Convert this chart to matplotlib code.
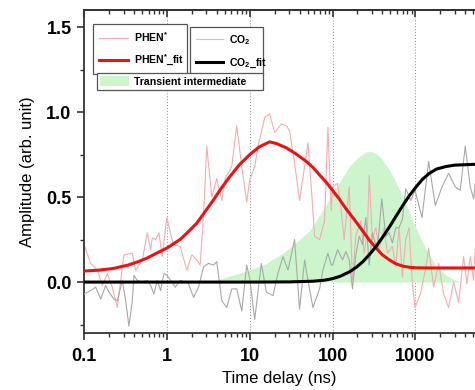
import matplotlib
matplotlib.use("Agg")
import matplotlib.pyplot as plt
from matplotlib.lines import Line2D
from matplotlib.patches import Patch
from matplotlib.ticker import FixedLocator, LogLocator, NullFormatter, FixedFormatter

plt.rcParams["font.family"] = ["Liberation Sans", "DejaVu Sans"]
plt.rcParams["mathtext.fontset"] = "custom"
plt.rcParams["mathtext.rm"] = "Liberation Sans:bold"
plt.rcParams["mathtext.bf"] = "Liberation Sans:bold"

# raw PHEN* trace (time in ns, amplitude)
phen_t = [0.100, 0.120, 0.145, 0.166, 0.191, 0.219, 0.252, 0.277, 0.303, 0.382,
          0.419, 0.505, 0.580, 0.636, 0.666, 0.730, 0.801, 0.879, 0.964,
          1.00, 1.10, 1.20, 1.45, 1.74, 2.00, 2.30, 2.52, 2.77, 3.03, 3.48,
          4.00, 4.60, 5.05, 6.07, 6.97, 8.01, 9.20,
          10.0, 11.5, 12.6, 15.2, 17.4, 20.0, 24.1, 27.7, 30.3, 34.8, 40.0,
          46.0, 50.5, 55.3, 60.7, 69.7, 80.1, 87.9, 96.4,
          100, 115, 126, 138, 159, 174, 191, 219, 241, 264, 277, 303, 333,
          365, 419, 460, 528, 580, 636, 697, 765, 839, 920, 991,
          1149, 1320, 1447, 1663, 1910, 2194, 2520, 2900, 3330, 3820, 4190,
          4600, 5050, 5280]
phen_y = [0.22, 0.11, 0.07, -0.02, 0.05, -0.03, -0.15, 0.01, 0.16, 0.17,
          0.07, 0.13, 0.29, 0.19, 0.26, 0.25, 0.29, 0.15, 0.32,
          0.38, 0.29, 0.22, 0.21, 0.07, 0.16, 0.13, 0.10, 0.40, 0.80, 0.50,
          0.61, 0.48, 0.61, 0.68, 0.92, 0.68, 0.47,
          0.60, 0.68, 0.80, 0.97, 0.99, 0.88, 0.93, 0.92, 0.89, 0.70, 0.48,
          0.68, 0.82, 0.56, 0.27, 0.25, 0.36, 0.91, 0.42,
          0.56, 0.58, 0.44, 0.25, 0.56, 0.01, 0.27, 0.36, 0.17, 0.31, 0.63, 0.25, 0.32,
          0.19, 0.32, 0.17, 0.21, 0.09, 0.32, 0.03, 0.25, 0.32, -0.01, -0.15,
          -0.07, 0.07, 0.20, -0.03, 0.11, -0.07, -0.15, 0.00, -0.12, 0.15, -0.01,
          0.15, 0.01, 0.19]

# raw CO2 trace
co2_t = [0.100, 0.120, 0.138, 0.159, 0.182, 0.200, 0.230, 0.252, 0.290, 0.318,
         0.348, 0.382, 0.400, 0.439, 0.505, 0.580, 0.636, 0.697, 0.765, 0.839, 0.920,
         1.00, 1.15, 1.26, 1.45, 1.66, 1.82, 2.10, 2.41, 2.77, 3.18, 3.65,
         4.00, 4.39, 4.60, 5.28, 6.07, 6.97, 8.01, 9.20,
         10.0, 11.5, 13.8, 15.9, 19.1, 21.9, 25.2, 29.0, 34.8, 40.0, 46.0,
         50.5, 58.0, 69.7, 76.5, 87.9, 96.4,
         100, 115, 132, 145, 159, 174, 191, 210, 230, 252, 277, 303, 348,
         393, 439, 482, 528, 580, 636, 697, 765, 879, 991,
         1203, 1447, 1742, 2095, 2520, 3030, 3480, 4000, 4600, 5050, 5280]
co2_y = [-0.07, -0.05, -0.03, -0.10, -0.02, -0.06, -0.10, -0.11, 0.01, -0.11,
         -0.26, -0.11, 0.04, 0.01, 0.00, 0.01, -0.02, -0.07, 0.01, -0.05, 0.05,
         0.04, 0.00, -0.03, 0.01, 0.00, -0.01, -0.09, -0.03, 0.09, 0.11, 0.10,
         0.12, -0.03, -0.11, -0.15, -0.04, -0.04, -0.17, 0.10,
         0.02, -0.22, 0.11, -0.06, -0.08, 0.05, 0.15, 0.07, 0.25, -0.16, 0.13,
         0.01, -0.15, -0.04, 0.07, 0.17, 0.10,
         0.10, 0.19, 0.13, 0.18, 0.13, -0.04, 0.16, 0.27, 0.22, 0.38, 0.10, 0.29, 0.19,
         0.49, 0.27, 0.29, 0.23, 0.32, 0.32, 0.37, 0.55, 0.48, 0.54,
         0.38, 0.71, 0.45, 0.56, 0.64, 0.56, 0.54, 0.80, 0.56, 0.49, 0.58]

# fitted curves
phen_fit_t = [0.1, 0.15, 0.225, 0.34, 0.45, 0.569, 0.75, 1.0, 1.2, 1.44, 1.8,
              2.28, 2.85, 3.61, 4.5, 5.74, 7.5, 10.0, 13.0, 17.4, 21.0, 27.7,
              36.0, 48.2, 58.0, 69.7, 83.0, 100, 120, 146, 185, 232, 280, 336,
              400, 487, 580, 703, 850, 1020, 1500, 5300]
phen_fit_y = [0.065, 0.07, 0.08, 0.10, 0.12, 0.14, 0.17, 0.20, 0.225, 0.25, 0.295,
              0.345, 0.41, 0.48, 0.55, 0.62, 0.69, 0.75, 0.795, 0.825, 0.815, 0.79,
              0.755, 0.71, 0.675, 0.63, 0.59, 0.54, 0.49, 0.43, 0.365, 0.30, 0.245, 0.20,
              0.16, 0.13, 0.108, 0.094, 0.087, 0.084, 0.083, 0.083]

co2_fit_t = [0.1, 1.0, 10.0, 30.0, 58.0, 80.0, 100, 125, 160, 195, 232, 280,
             336, 400, 487, 580, 703, 850, 1020, 1220, 1476, 1800, 2344, 3000,
             3720, 5300]
co2_fit_y = [0.0, 0.0, 0.0, 0.001, 0.005, 0.011, 0.02, 0.035, 0.06, 0.088, 0.12, 0.163,
             0.21, 0.262, 0.325, 0.385, 0.45, 0.51, 0.56, 0.605, 0.64, 0.665, 0.68, 0.688,
             0.69, 0.693]

# transient intermediate (shaded)
inter_t = [1.0, 2.0, 3.9, 6.2, 10.0, 15.9, 25.2, 40.0, 52.0, 63.6, 80.0, 100,
           126, 159, 200, 252, 290, 340, 400, 500, 636, 800, 950, 1200, 1476,
           1742, 2344, 2900, 3500]
inter_y = [0.0, 0.003, 0.01, 0.04, 0.07, 0.11, 0.17, 0.25, 0.30, 0.36, 0.44, 0.52,
           0.60, 0.68, 0.73, 0.765, 0.77, 0.755, 0.72, 0.65, 0.55, 0.44, 0.35, 0.24, 0.16,
           0.10, 0.04, 0.015, 0.0]

fig = plt.figure(figsize=(4.75, 3.9), dpi=100)
ax = fig.add_axes([0.177, 0.146, 0.823, 0.828])

ax.fill_between(inter_t, 0, inter_y, color="#ccf5cc", lw=0, zorder=1)
ax.plot(phen_t, phen_y, color="#f2acb3", lw=0.8, zorder=2)
ax.plot(co2_t, co2_y, color="#a8a8a8", lw=0.8, zorder=3)
ax.plot(phen_fit_t, phen_fit_y, color="#ee1111", lw=2.2, zorder=4)
ax.plot(co2_fit_t, co2_fit_y, color="black", lw=2.2, zorder=5)

for v in [1, 10, 100, 1000]:
    ax.axvline(v, color="#888888", lw=0.7, ls=(0, (1, 2)), zorder=0)

ax.set_xscale("log")
ax.set_xlim(0.1, 10 ** 3.72)
ax.set_ylim(-0.30, 1.60)

ax.xaxis.set_major_locator(FixedLocator([0.1, 1, 10, 100, 1000]))
ax.xaxis.set_major_formatter(FixedFormatter(["0.1", "1", "10", "100", "1000"]))
ax.xaxis.set_minor_locator(LogLocator(base=10, subs=range(2, 10)))
ax.xaxis.set_minor_formatter(NullFormatter())
ax.set_yticks([0.0, 0.5, 1.0, 1.5])
ax.set_yticklabels(["0.0", "0.5", "1.0", "1.5"])
ax.set_yticks([-0.25, 0.25, 0.75, 1.25], minor=True)

for lab in ax.get_xticklabels() + ax.get_yticklabels():
    lab.set_fontweight("bold")
    lab.set_fontsize(13)

ax.tick_params(axis="both", which="major", direction="out", length=5, width=1.2, color="#333333")
ax.tick_params(axis="both", which="minor", direction="out", length=3, width=1.0, color="#333333")
ax.tick_params(axis="x", pad=6)
ax.tick_params(axis="y", pad=4)

# mirrored ticks on the top edge point into the plot
top = ax.secondary_xaxis("top")
top.xaxis.set_major_locator(FixedLocator([0.1, 1, 10, 100, 1000]))
top.xaxis.set_minor_locator(LogLocator(base=10, subs=range(2, 10)))
top.xaxis.set_major_formatter(NullFormatter())
top.xaxis.set_minor_formatter(NullFormatter())
top.tick_params(which="major", direction="in", length=5, width=1.2, color="#333333")
top.tick_params(which="minor", direction="in", length=3, width=1.0, color="#333333")
top.spines["top"].set_linewidth(1.3)
top.spines["top"].set_color("#333333")

for s in ["left", "bottom", "top"]:
    ax.spines[s].set_linewidth(1.3)
    ax.spines[s].set_color("#333333")
ax.spines["right"].set_visible(False)

ax.set_xlabel("Time delay (ns)", fontsize=12, labelpad=4)
ax.set_ylabel("Amplitude (arb. unit)", fontsize=12, labelpad=8)

leg_kw = dict(loc="upper left", mode="expand", borderaxespad=0, fancybox=False,
              prop={"weight": "bold", "size": 7.6}, handletextpad=0.5,
              borderpad=0.55, labelspacing=0.9, framealpha=1)

h1 = [Line2D([], [], color="#f2acb3", lw=0.8), Line2D([], [], color="#ee1111", lw=2.2)]
leg1 = ax.legend(h1, [r"PHEN$^{*}$", r"PHEN$^{*}$_fit"], bbox_to_anchor=(0.023, 0.957, 0.240, 0),
                 handlelength=2.8, **leg_kw)
leg1.get_frame().set_edgecolor("#555555")
leg1.get_frame().set_linewidth(0.9)
ax.add_artist(leg1)

h2 = [Line2D([], [], color="#c8c8c8", lw=0.8), Line2D([], [], color="black", lw=2.2)]
leg2 = ax.legend(h2, [r"CO$_{2}$", r"CO$_{2}$_fit"], bbox_to_anchor=(0.271, 0.947, 0.187, 0),
                 handlelength=2.6, **leg_kw)
leg2.get_frame().set_edgecolor("#555555")
leg2.get_frame().set_linewidth(0.9)
ax.add_artist(leg2)

h3 = [Patch(facecolor="#ccf5cc", edgecolor="none")]
kw3 = dict(leg_kw)
kw3["borderpad"] = 0.3
leg3 = ax.legend(h3, ["Transient intermediate"], bbox_to_anchor=(0.033, 0.805, 0.425, 0),
                 handlelength=2.7, handleheight=1.1, **kw3)
leg3.get_frame().set_edgecolor("#555555")
leg3.get_frame().set_linewidth(0.9)

fig.savefig("out.png", dpi=100, facecolor="white")
